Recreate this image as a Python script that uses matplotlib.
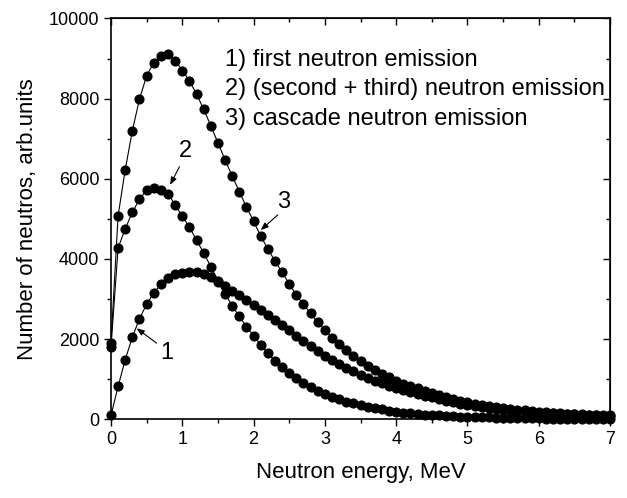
#!/usr/bin/env python3
"""
中子能谱曲线绘制脚本

- 横轴：中子能量 (MeV)
- 纵轴：中子数 (任意单位)
- 三条曲线：首次中子发射、(第二+第三) 次中子发射、级联中子发射
"""

import matplotlib.pyplot as plt
from matplotlib.ticker import MultipleLocator

# ============================================================================
# 数据区域
# ============================================================================

ENERGY = [round(0.1 * i, 1) for i in range(71)]  # 0.0 ... 7.0 MeV

FIRST_EMISSION = [
    100, 820, 1490, 2050, 2510, 2870, 3150, 3370, 3520, 3620,
    3660, 3680, 3670, 3620, 3540, 3430, 3320, 3200, 3090, 2970,
    2840, 2730, 2610, 2480, 2360, 2220, 2080, 1950, 1830, 1700,
    1590, 1485, 1385, 1285, 1195, 1110, 1030, 960, 895, 835,
    780, 725, 685, 635, 590, 545, 500, 460, 420, 385,
    355, 330, 305, 280, 260, 240, 225, 210, 195, 180,
    170, 160, 150, 140, 130, 122, 115, 108, 100, 95,
    90,
]

SECOND_THIRD_EMISSION = [
    1800, 4280, 4750, 5165, 5490, 5720, 5760, 5730, 5630, 5350,
    5065, 4795, 4470, 4150, 3810, 3460, 3125, 2835, 2565, 2315,
    2085, 1860, 1650, 1460, 1315, 1160, 1025, 915, 815, 715,
    630, 565, 500, 440, 395, 355, 315, 275, 245, 215,
    190, 170, 150, 135, 120, 108, 97, 87, 78, 70,
    63, 57, 51, 46, 41, 37, 33, 30, 27, 24,
    22, 20, 18, 16, 14, 13, 12, 11, 10, 9,
    8,
]

CASCADE_EMISSION = [
    1900, 5080, 6230, 7200, 7990, 8570, 8900, 9070, 9110, 8950,
    8700, 8450, 8110, 7740, 7320, 6900, 6470, 6070, 5680, 5300,
    4940, 4570, 4250, 3950, 3670, 3380, 3100, 2870, 2640, 2420,
    2220, 2040, 1870, 1720, 1580, 1460, 1340, 1230, 1135, 1045,
    965, 890, 830, 770, 705, 650, 595, 545, 500, 455,
    420, 385, 355, 325, 300, 277, 258, 240, 222, 204,
    192, 180, 168, 156, 144, 135, 127, 119, 110, 104,
    98,
]

LEGEND_LINES = [
    "1) first neutron emission",
    "2) (second + third) neutron emission",
    "3) cascade neutron emission",
]

# 曲线编号标注：(文字, 文字位置, 箭头起点, 箭头终点)
CURVE_LABELS = [
    ("1", (0.78, 1650), (0.64, 1900), (0.36, 2270)),
    ("2", (1.04, 6700), (0.96, 6300), (0.83, 5850)),
    ("3", (2.42, 5420), (2.34, 5100), (2.10, 4720)),
]

# ============================================================================
# 样式
# ============================================================================

FIG_SIZE = (6.27, 4.98)
DPI = 100
FONT = ["Liberation Sans", "DejaVu Sans"]
TICK_FONTSIZE = 13
LABEL_FONTSIZE = 16
TEXT_FONTSIZE = 17
MARKER_SIZE = 6.3
LINEWIDTH = 0.8


def plot_spectra(output_path="out.png"):
    plt.rcParams["font.family"] = FONT

    fig = plt.figure(figsize=FIG_SIZE, dpi=DPI)
    ax = fig.add_axes([0.177, 0.158, 0.796, 0.805])

    for values in (FIRST_EMISSION, SECOND_THIRD_EMISSION, CASCADE_EMISSION):
        ax.plot(ENERGY, values, color="black", linewidth=LINEWIDTH,
                marker="o", markersize=MARKER_SIZE, clip_on=False, zorder=3)

    ax.set_xlim(0, 7)
    ax.set_ylim(0, 10000)
    ax.xaxis.set_major_locator(MultipleLocator(1))
    ax.xaxis.set_minor_locator(MultipleLocator(0.5))
    ax.yaxis.set_major_locator(MultipleLocator(2000))
    ax.yaxis.set_minor_locator(MultipleLocator(1000))

    # 左/下刻度朝外，上/右刻度朝内
    ax.tick_params(axis="both", which="major", labelsize=TICK_FONTSIZE,
                   length=5, width=1.0, direction="out")
    ax.tick_params(axis="both", which="minor", length=3, width=1.0,
                   direction="out")
    for spine in ax.spines.values():
        spine.set_linewidth(1.2)

    top = ax.secondary_xaxis("top")
    top.xaxis.set_major_locator(MultipleLocator(1))
    top.xaxis.set_minor_locator(MultipleLocator(0.5))
    top.tick_params(which="major", direction="in", length=5, width=1.0,
                    labeltop=False)
    top.tick_params(which="minor", direction="in", length=3, width=1.0)
    right = ax.secondary_yaxis("right")
    right.yaxis.set_major_locator(MultipleLocator(2000))
    right.yaxis.set_minor_locator(MultipleLocator(1000))
    right.tick_params(which="major", direction="in", length=5, width=1.0,
                      labelright=False)
    right.tick_params(which="minor", direction="in", length=3, width=1.0)

    ax.set_xlabel("Neutron energy, MeV", fontsize=LABEL_FONTSIZE, labelpad=10)
    ax.set_ylabel("Number of neutros, arb.units", fontsize=LABEL_FONTSIZE,
                  labelpad=8)

    # 图例文字
    for i, line in enumerate(LEGEND_LINES):
        ax.text(1.6, 8960 - i * 730, line, fontsize=TEXT_FONTSIZE,
                va="center", ha="left")

    # 曲线编号及箭头
    for text, text_xy, tail_xy, tip_xy in CURVE_LABELS:
        ax.text(*text_xy, text, fontsize=TEXT_FONTSIZE, ha="center",
                va="center")
        ax.annotate("", xy=tip_xy, xytext=tail_xy,
                    arrowprops=dict(arrowstyle="-|>,head_length=0.45,head_width=0.18",
                                    color="black", lw=0.8,
                                    shrinkA=0, shrinkB=0))

    fig.savefig(output_path, dpi=DPI)
    plt.close(fig)


if __name__ == "__main__":
    plot_spectra()
